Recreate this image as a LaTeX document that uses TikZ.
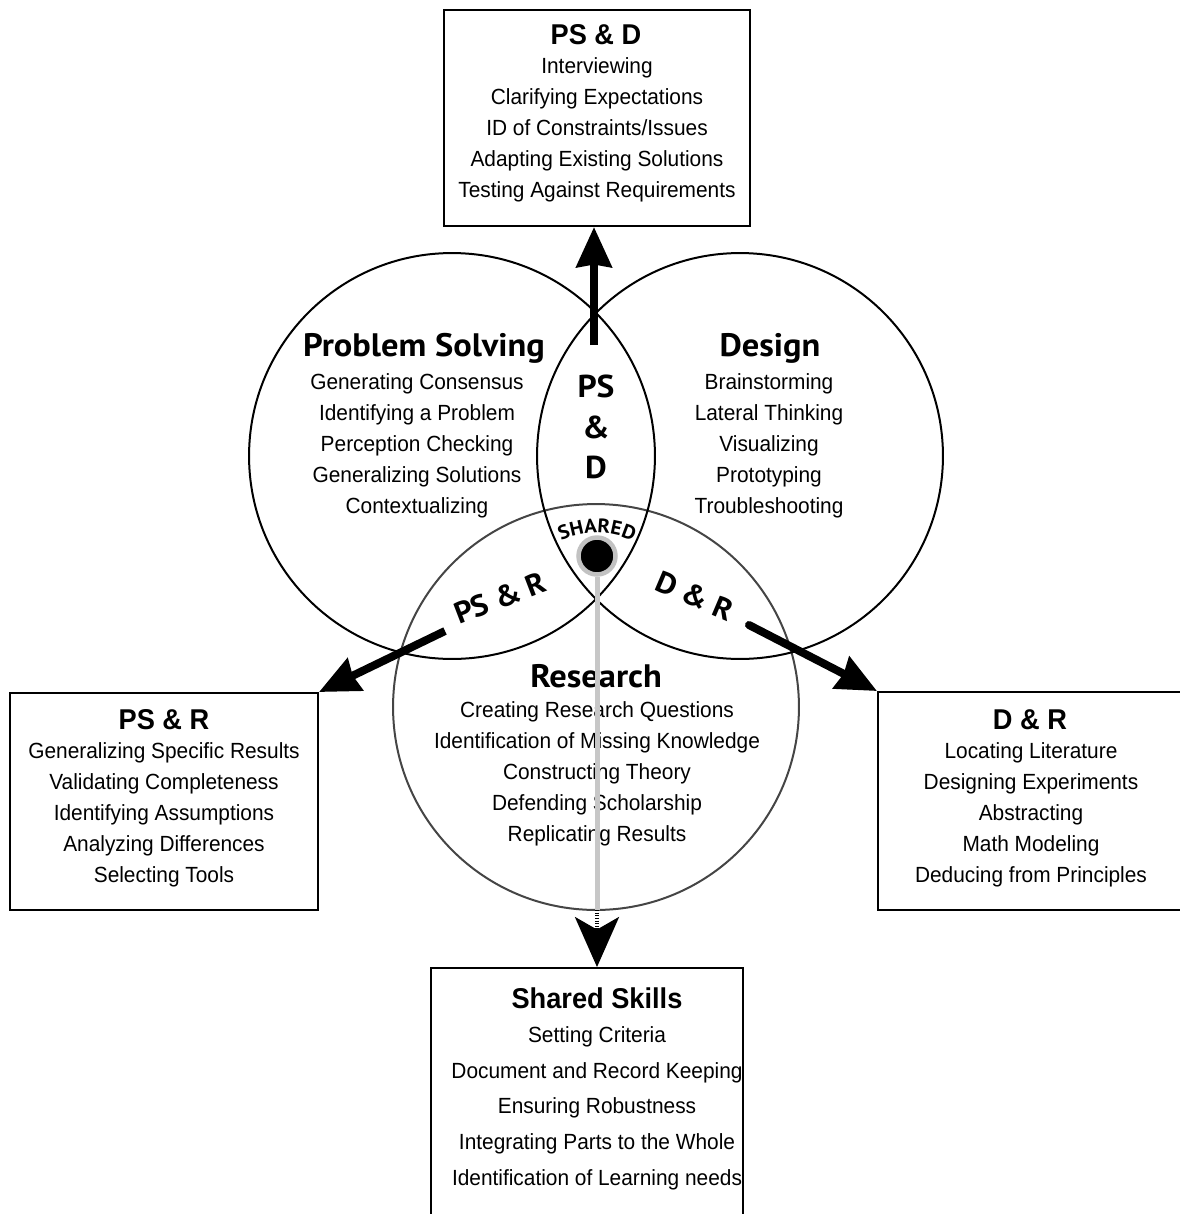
\documentclass[tikz,border=0pt]{standalone}
\usepackage{fontspec}
\setmainfont{Liberation Sans}[FakeStretch=0.95]
\newfontfamily\hdrfont{PT Sans}[FakeStretch=1.06]
\usetikzlibrary{arrows.meta,decorations.text}
\definecolor{rgray}{gray}{0.27}
\definecolor{halo}{gray}{0.76}
\definecolor{lgray}{gray}{0.78}
\begin{document}
\begin{tikzpicture}[x=0.02cm,y=0.02cm,
  venn/.style={circle, draw, line width=0.04cm, minimum size=8.12cm, inner sep=0pt},
  skillbox/.style={draw, line width=0.04cm, inner sep=0pt, rectangle},
  btitle/.style={font=\fontsize{16.3}{19}\selectfont\bfseries, inner sep=0pt},
  bbody/.style={align=center, inner sep=0pt, font=\fontsize{12.5}{17.6}\selectfont},
  sbody/.style={align=center, inner sep=0pt, font=\fontsize{12.5}{20.3}\selectfont},
  ctitle/.style={font=\hdrfont\bfseries\fontsize{18.5}{22}\selectfont, inner sep=0pt},
  lenslabel/.style={font=\hdrfont\bfseries\fontsize{17}{20}\selectfont, inner sep=0pt},
  fat/.style={line width=0.16cm, -{Stealth[length=0.8cm,width=0.7cm,inset=0.05cm]}}
]
\useasboundingbox (0,0) rectangle (1180,-1214);
\clip (0,0) rectangle (1180,-1214);

% circles
\node[venn, draw=rgray] (re) at (596,-707) {};
\node[venn] (ps) at (452,-456) {};
\node[venn] (de) at (740,-456) {};

% circle texts
\node[ctitle] (pst) at (424,-348) {Problem Solving};
\node[bbody] (psb) at (417,-446) {Generating Consensus\\Identifying a Problem\\Perception Checking\\Generalizing Solutions\\Contextualizing};
\node[ctitle] (det) at (770,-348) {Design};
\node[bbody] (deb) at (769,-446) {Brainstorming\\Lateral Thinking\\Visualizing\\Prototyping\\Troubleshooting};
\node[ctitle] (ret) at (596,-676) {Research};
\node[bbody] (reb) at (597,-774) {Creating Research Questions\\Identification of Missing Knowledge\\Constructing Theory\\Defending Scholarship\\Replicating Results};

% intersection labels
\node[align=center, inner sep=0pt, font=\hdrfont\bfseries\fontsize{18}{23.2}\selectfont] (psdl) at (596,-427) {PS\\\&\\D};
\node[lenslabel, rotate=21] (psrl) at (500,-598) {PS \& R};
\node[lenslabel, rotate=-23] (drl) at (695,-596) {D \& R};

% boxes
\node[skillbox, minimum width=6.12cm, minimum height=4.32cm] (psdbox) at (597,-118) {};
\node[btitle] (psdt) at (596,-35) {PS \& D};
\node[bbody] (psdb) at (597,-130) {Interviewing\\Clarifying Expectations\\ID of Constraints/Issues\\Adapting Existing Solutions\\Testing Against Requirements};

\node[skillbox, minimum width=6.16cm, minimum height=4.34cm] (psrbox) at (164,-801.5) {};
\node[btitle] (psrt) at (164,-720) {PS \& R};
\node[bbody] (psrb) at (164,-815) {Generalizing Specific Results\\Validating Completeness\\Identifying Assumptions\\Analyzing Differences\\Selecting Tools};

\node[skillbox, minimum width=6.16cm, minimum height=4.36cm] (drbox) at (1032,-801) {};
\node[btitle] (drt) at (1030,-720) {D \& R};
\node[bbody] (drb) at (1031,-814.5) {Locating Literature\\Designing Experiments\\Abstracting\\Math Modeling\\Deducing from Principles};

\node[skillbox, minimum width=6.24cm, minimum height=5.44cm] (shbox) at (587,-1104) {};
\node[btitle] (sht) at (597,-998) {Shared Skills};
\node[sbody] (shb) at (597,-1108) {Setting Criteria\\Document and Record Keeping\\Ensuring Robustness\\Integrating Parts to the Whole\\Identification of Learning needs};

% shared dot
\node[circle, fill=black, draw=halo, line width=0.09cm, minimum size=0.74cm, inner sep=0pt] (dot) at (597,-556) {};
\path[decorate, decoration={text along path, text align=center,
  text={|\hdrfont\bfseries\fontsize{11.2}{12}\selectfont|SHARED}}]
  (597,-618) ++(122:85) arc[start angle=122, end angle=58, radius=85];

% connectors
\coordinate (c1) at (594,-345);
\coordinate (c2) at (445,-631);
\coordinate (c3) at (749,-625);
\coordinate (rb) at (597,-910);
\draw[fat] (c1) -- (c1 |- psdbox.south);
\draw[fat] (c2) -- (psrbox.north east);
\draw[fat, line cap=round] (c3) -- (drbox.north west);
\draw[lgray, line width=0.1cm] (dot.south) -- (rb);
\draw[line width=0.08cm, dash pattern=on 0.6pt off 0.9pt, -{Stealth[length=1.0cm,width=0.88cm,inset=0.25cm]}] (rb) -- (rb |- shbox.north);
\end{tikzpicture}
\end{document}
